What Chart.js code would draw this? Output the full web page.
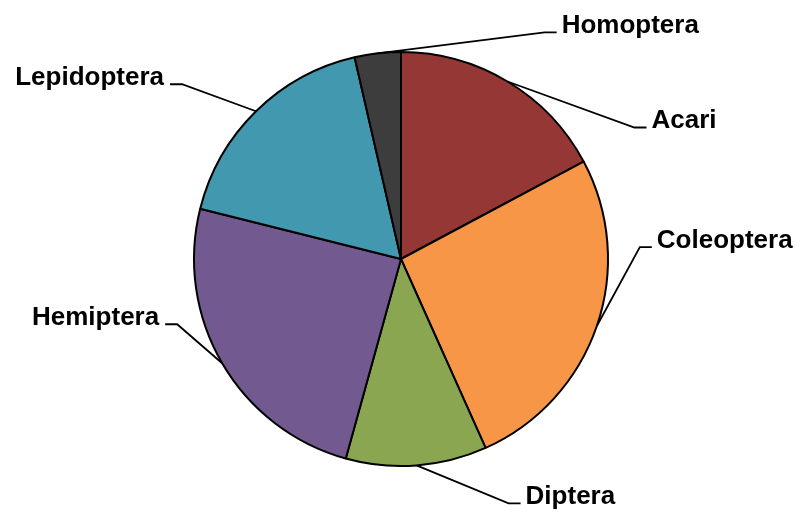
<!DOCTYPE html>
<html>
<head>
<meta charset="utf-8">
<script src="https://cdn.jsdelivr.net/npm/chart.js@4/dist/chart.umd.min.js"></script>
<style>
  html, body { margin: 0; padding: 0; background: #fff; }
  #wrap { width: 796px; height: 512px; }
</style>
</head>
<body>
<div id="wrap"><canvas id="c" width="796" height="512"></canvas></div>
<script>
// Data
const categories = ["Acari", "Coleoptera", "Diptera", "Hemiptera", "Lepidoptera", "Homoptera"];
const shares = [17.2, 26.1, 11.0, 24.6, 17.5, 3.6];

// Styles / layout
const sliceColors = ["#953735", "#F79646", "#8BA651", "#725990", "#4298AF", "#3D3D3D"];
const labelOffsets = [[127, 46], [43, -79], [92, 38], [-45, -39], [-74, -27], [167, -21]];

const labelPlugin = {
  id: 'pieLabels',
  afterDraw(chart) {
    const ctx = chart.ctx;
    const meta = chart.getDatasetMeta(0);
    ctx.save();
    ctx.font = 'bold 26px "Liberation Sans", Arial, sans-serif';
    ctx.fillStyle = '#000';
    ctx.strokeStyle = '#000';
    ctx.lineWidth = 1.8;
    ctx.textBaseline = 'alphabetic';
    meta.data.forEach((arc, i) => {
      const p = arc.getProps(['x', 'y', 'startAngle', 'endAngle', 'outerRadius'], true);
      const mid = (p.startAngle + p.endAngle) / 2;
      const sx = p.x + Math.cos(mid) * p.outerRadius;
      const sy = p.y + Math.sin(mid) * p.outerRadius;
      const ex = sx + labelOffsets[i][0];
      const ey = sy + labelOffsets[i][1];
      const right = labelOffsets[i][0] > 0;
      const hx = ex + (right ? 12 : -12);
      ctx.beginPath();
      ctx.moveTo(sx, sy);
      ctx.lineTo(ex, ey);
      ctx.lineTo(hx, ey);
      ctx.stroke();
      ctx.textAlign = right ? 'left' : 'right';
      ctx.fillText(categories[i], hx + (right ? 5 : -6), ey + 1);
    });
    ctx.restore();
  }
};

new Chart(document.getElementById('c'), {
  type: 'pie',
  data: {
    labels: categories,
    datasets: [{
      data: shares,
      backgroundColor: sliceColors,
      borderColor: '#000',
      borderWidth: 2
    }]
  },
  options: {
    responsive: false,
    animation: false,
    events: [],
    layout: { padding: { top: 51, bottom: 45, left: 193, right: 187 } },
    plugins: { legend: { display: false }, tooltip: { enabled: false } }
  },
  plugins: [labelPlugin]
});
</script>
</body>
</html>
